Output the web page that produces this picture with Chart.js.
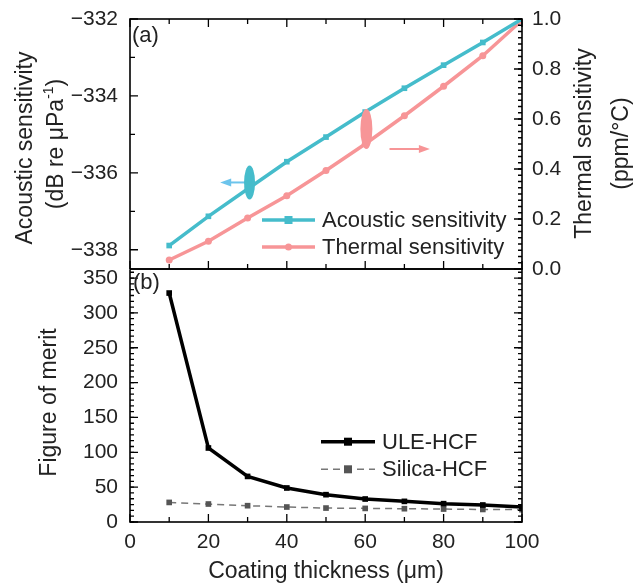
<!DOCTYPE html>
<html>
<head>
<meta charset="utf-8">
<script src="https://cdn.jsdelivr.net/npm/chart.js@4"></script>
<style>
  body { margin: 0; background: #fff; }
  #wrap { position: relative; width: 638px; height: 586px; overflow: hidden; }
  canvas { position: absolute; left: 0; }
  #bottom { top: 260px; z-index: 1; }
  #top { top: 0; z-index: 2; }
</style>
</head>
<body>
<div id="wrap">
  <canvas id="bottom" width="638" height="326"></canvas>
  <canvas id="top" width="638" height="290"></canvas>
</div>
<script>
const thickness = [10, 20, 30, 40, 50, 60, 70, 80, 90, 100];
const acoustic = [-337.89, -337.13, -336.42, -335.71, -335.07, -334.42, -333.80, -333.20, -332.61, -332.0];
const thermal = [0.036, 0.111, 0.204, 0.293, 0.394, 0.50, 0.613, 0.731, 0.853, 0.995];
const uleFom = [328.5, 106.2, 65.4, 48.8, 39.2, 33.0, 29.6, 26.3, 24.4, 21.5];
const silicaFom = [28.1, 25.8, 23.4, 21.5, 20.0, 19.5, 19.1, 18.6, 18.0, 17.7];

const xTicks = [0, 20, 40, 60, 80, 100];
const acousticTicks = [-338, -336, -334, -332];
const thermalTicks = [0, 0.2, 0.4, 0.6, 0.8, 1.0];
const fomTicks = [0, 50, 100, 150, 200, 250, 300, 350];

const TEAL = '#45bccb';
const PINK = '#f79597';
const FONT = '"Liberation Sans", Arial, sans-serif';

Chart.defaults.font.family = FONT;
Chart.defaults.color = '#222';

function pts(ys) {
  return thickness.map((x, i) => ({ x: x, y: ys[i] }));
}
function range(a, b, step) {
  const out = [];
  for (let v = a; v <= b + 1e-9; v += step) out.push(v);
  return out;
}
function minus(v) {
  return v < 0 ? '\u2212' + Math.abs(v) : String(v);
}
// fixed axis size, no extra room for overhanging labels
function fixSize(w, h) {
  return s => {
    if (w) s.width = w;
    if (h) s.height = h;
    s.paddingTop = s.paddingBottom = s.paddingLeft = s.paddingRight = 0;
  };
}

// inward tick marks along the frame
function tickMarks(chart, id, values, len, sides) {
  const s = chart.scales[id], a = chart.chartArea, ctx = chart.ctx;
  ctx.save();
  ctx.strokeStyle = '#000';
  ctx.lineWidth = 1.3;
  ctx.beginPath();
  values.forEach(v => {
    const p = s.getPixelForValue(v);
    sides.forEach(side => {
      if (side === 'bottom') { ctx.moveTo(p, a.bottom); ctx.lineTo(p, a.bottom - len); }
      if (side === 'top') { ctx.moveTo(p, a.top); ctx.lineTo(p, a.top + len); }
      if (side === 'left') { ctx.moveTo(a.left, p); ctx.lineTo(a.left + len, p); }
      if (side === 'right') { ctx.moveTo(a.right, p); ctx.lineTo(a.right - len, p); }
    });
  });
  ctx.stroke();
  ctx.restore();
}

function frame(chart) {
  const a = chart.chartArea, ctx = chart.ctx;
  ctx.save();
  ctx.strokeStyle = '#000';
  ctx.lineWidth = 1.6;
  ctx.strokeRect(a.left, a.top, a.right - a.left, a.bottom - a.top);
  ctx.restore();
}

function vText(ctx, text, x, y, size) {
  ctx.save();
  ctx.translate(x, y);
  ctx.rotate(-Math.PI / 2);
  ctx.font = size + 'px ' + FONT;
  ctx.fillStyle = '#222';
  ctx.textAlign = 'center';
  ctx.textBaseline = 'middle';
  ctx.fillText(text, 0, 0);
  ctx.restore();
}

function marker(ctx, ds, x, y) {
  ctx.fillStyle = ds.pointBackgroundColor;
  const r = ds.pointRadius;
  if (ds.pointStyle === 'rect') {
    ctx.fillRect(x - r, y - r, 2 * r, 2 * r);
  } else {
    ctx.beginPath();
    ctx.arc(x, y, r, 0, Math.PI * 2);
    ctx.fill();
  }
}

function legendRow(ctx, ds, x0, x1, y) {
  ctx.save();
  ctx.strokeStyle = ds.borderColor;
  ctx.lineWidth = ds.borderWidth;
  ctx.setLineDash(ds.borderDash || []);
  ctx.beginPath();
  ctx.moveTo(x0, y);
  ctx.lineTo(x1, y);
  ctx.stroke();
  ctx.setLineDash([]);
  marker(ctx, ds, (x0 + x1) / 2, y);
  ctx.font = '22px ' + FONT;
  ctx.fillStyle = '#222';
  ctx.textBaseline = 'middle';
  ctx.fillText(ds.label, x1 + 7, y + 1);
  ctx.restore();
}

function arrow(ctx, x0, x1, y, color) {
  const dir = Math.sign(x1 - x0);
  ctx.save();
  ctx.strokeStyle = color;
  ctx.fillStyle = color;
  ctx.lineWidth = 2;
  ctx.beginPath();
  ctx.moveTo(x0, y);
  ctx.lineTo(x1 - dir * 8, y);
  ctx.stroke();
  ctx.beginPath();
  ctx.moveTo(x1, y);
  ctx.lineTo(x1 - dir * 11, y - 4);
  ctx.lineTo(x1 - dir * 11, y + 4);
  ctx.closePath();
  ctx.fill();
  ctx.restore();
}

function ellipse(ctx, x, y, rx, ry, color) {
  ctx.save();
  ctx.fillStyle = color;
  ctx.beginPath();
  ctx.ellipse(x, y, rx, ry, 0, 0, Math.PI * 2);
  ctx.fill();
  ctx.restore();
}

const topDecor = {
  id: 'topDecor',
  beforeDraw(chart) {
    const ctx = chart.ctx;
    ctx.save();
    ctx.fillStyle = '#fff';
    ctx.fillRect(0, 0, chart.chartArea.left, chart.chartArea.bottom + 1);
    ctx.restore();
  },
  afterDraw(chart) {
    const ctx = chart.ctx, sx = chart.scales.x, sa = chart.scales.yA, st = chart.scales.yT;
    // direction markers
    arrow(ctx, sx.getPixelForValue(30.5), sx.getPixelForValue(23), sa.getPixelForValue(-336.25), '#6cc4ec');
    ellipse(ctx, sx.getPixelForValue(30.5), sa.getPixelForValue(-336.25), 5.5, 17, TEAL);
    ellipse(ctx, sx.getPixelForValue(60.3), st.getPixelForValue(0.56), 6, 20, PINK);
    arrow(ctx, sx.getPixelForValue(66.2), sx.getPixelForValue(76.5), st.getPixelForValue(0.48), PINK);

    frame(chart);
    tickMarks(chart, 'x', range(0, 100, 20), 8, ['top', 'bottom']);
    tickMarks(chart, 'x', range(10, 90, 20), 5, ['top', 'bottom']);
    tickMarks(chart, 'yA', acousticTicks, 8, ['left']);
    tickMarks(chart, 'yA', [-337, -335, -333], 5, ['left']);
    tickMarks(chart, 'yT', thermalTicks, 8, ['right']);
    tickMarks(chart, 'yT', range(0, 1, 0.025), 4, ['right']);

    const ds = chart.data.datasets;
    legendRow(ctx, ds[0], 262, 315, 220);
    legendRow(ctx, ds[1], 262, 315, 247);

    ctx.save();
    ctx.font = '22px ' + FONT;
    ctx.fillStyle = '#222';
    ctx.textBaseline = 'middle';
    ctx.fillText('(a)', chart.chartArea.left + 2, 36);
    ctx.restore();

    vText(ctx, 'Acoustic sensitivity', 26, 148, 23);
    // second line with superscript
    ctx.save();
    ctx.translate(57, 144);
    ctx.rotate(-Math.PI / 2);
    ctx.fillStyle = '#222';
    ctx.textBaseline = 'middle';
    const big = '23px ' + FONT, small = '14px ' + FONT;
    ctx.font = big;
    const w1 = ctx.measureText('(dB re \u03bcPa').width, w3 = ctx.measureText(')').width;
    ctx.font = small;
    const w2 = ctx.measureText('-1').width;
    let x = -(w1 + w2 + w3) / 2;
    ctx.font = big;
    ctx.fillText('(dB re \u03bcPa', x, 0);
    ctx.font = small;
    ctx.fillText('-1', x + w1, -8);
    ctx.font = big;
    ctx.fillText(')', x + w1 + w2, 0);
    ctx.restore();

    vText(ctx, 'Thermal sensitivity', 585, 143.5, 23);
    vText(ctx, '(ppm/\u00b0C)', 622, 143.5, 23);
  }
};

const bottomDecor = {
  id: 'bottomDecor',
  afterDraw(chart) {
    const ctx = chart.ctx;
    frame(chart);
    tickMarks(chart, 'x', range(0, 100, 20), 8, ['bottom']);
    tickMarks(chart, 'x', range(10, 90, 20), 5, ['bottom']);
    tickMarks(chart, 'yF', fomTicks, 8, ['left', 'right']);
    tickMarks(chart, 'yF', range(0, 360, 50 / 6), 4, ['left', 'right']);

    const ds = chart.data.datasets;
    legendRow(ctx, ds[0], 321, 375, 441.7 - 260);
    legendRow(ctx, ds[1], 321, 375, 469.3 - 260);

    ctx.save();
    ctx.font = '22px ' + FONT;
    ctx.fillStyle = '#222';
    ctx.textBaseline = 'middle';
    ctx.fillText('(b)', chart.chartArea.left + 3, 23);
    ctx.textAlign = 'center';
    ctx.font = '23px ' + FONT;
    ctx.fillText('Coating thickness (\u03bcm)', 326, 312);
    ctx.restore();

    vText(ctx, 'Figure of merit', 50, 142.5, 23);
  }
};

const tickFont = { size: 21 };

new Chart(document.getElementById('top'), {
  type: 'line',
  data: {
    datasets: [
      {
        label: 'Acoustic sensitivity', data: pts(acoustic), yAxisID: 'yA',
        borderColor: TEAL, backgroundColor: TEAL, borderWidth: 3.5,
        pointStyle: 'rect', pointRadius: 4, pointBackgroundColor: TEAL, pointBorderWidth: 0
      },
      {
        label: 'Thermal sensitivity', data: pts(thermal), yAxisID: 'yT',
        borderColor: PINK, backgroundColor: PINK, borderWidth: 3.5,
        pointStyle: 'circle', pointRadius: 3.5, pointBackgroundColor: PINK, pointBorderWidth: 0
      }
    ]
  },
  options: {
    responsive: false,
    animation: false,
    layout: { padding: { top: 19, bottom: 21, left: 0, right: 0 } },
    plugins: { legend: { display: false }, tooltip: { enabled: false } },
    scales: {
      x: { type: 'linear', min: 0, max: 100, display: false },
      yA: {
        position: 'left', min: -338.5, max: -332,
        grid: { display: false, drawTicks: false }, border: { display: false },
        afterFit: fixSize(130, 0),
        afterBuildTicks: s => { s.ticks = acousticTicks.map(v => ({ value: v })); },
        ticks: { font: tickFont, padding: 12, callback: v => minus(v) }
      },
      yT: {
        position: 'right', min: 0, max: 1,
        grid: { display: false, drawTicks: false }, border: { display: false },
        afterFit: fixSize(116, 0),
        afterBuildTicks: s => { s.ticks = thermalTicks.map(v => ({ value: v })); },
        ticks: { font: tickFont, padding: 10, callback: v => v.toFixed(1) }
      }
    }
  },
  plugins: [topDecor]
});

new Chart(document.getElementById('bottom'), {
  type: 'line',
  data: {
    datasets: [
      {
        label: 'ULE-HCF', data: pts(uleFom), yAxisID: 'yF',
        borderColor: '#000', backgroundColor: '#000', borderWidth: 3.5,
        pointStyle: 'rect', pointRadius: 4, pointBackgroundColor: '#000', pointBorderWidth: 0
      },
      {
        label: 'Silica-HCF', data: pts(silicaFom), yAxisID: 'yF',
        borderColor: '#777', backgroundColor: '#555', borderWidth: 1.5, borderDash: [7, 5],
        pointStyle: 'rect', pointRadius: 4, pointBackgroundColor: '#555', pointBorderWidth: 0
      }
    ]
  },
  options: {
    responsive: false,
    animation: false,
    layout: { padding: { top: 9, bottom: 0, left: 0, right: 116 } },
    plugins: { legend: { display: false }, tooltip: { enabled: false } },
    scales: {
      x: {
        type: 'linear', min: 0, max: 100,
        grid: { display: false, drawTicks: false }, border: { display: false },
        afterFit: fixSize(0, 64),
        afterBuildTicks: s => { s.ticks = xTicks.map(v => ({ value: v })); },
        ticks: { font: tickFont, padding: 8, maxRotation: 0 }
      },
      yF: {
        position: 'left', min: 0, max: 363,
        grid: { display: false, drawTicks: false }, border: { display: false },
        afterFit: fixSize(130, 0),
        afterBuildTicks: s => { s.ticks = fomTicks.map(v => ({ value: v })); },
        ticks: { font: tickFont, padding: 12 }
      }
    }
  },
  plugins: [bottomDecor]
});
</script>
</body>
</html>
